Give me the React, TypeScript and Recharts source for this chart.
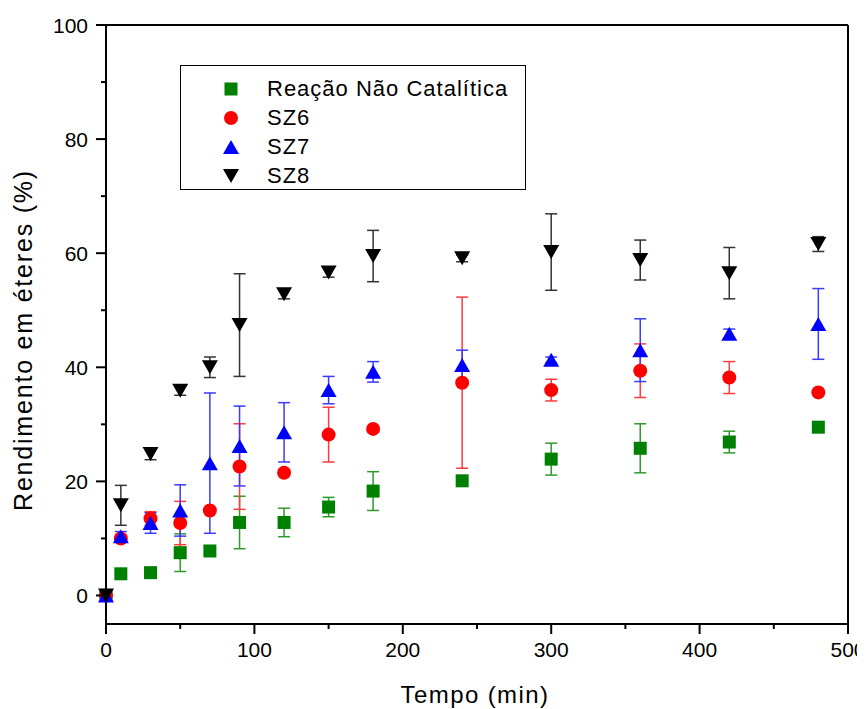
import { ScatterChart, Scatter, XAxis, YAxis, ErrorBar, ReferenceLine, Legend, Label } from 'recharts'

const FONT = '"Liberation Sans", Arial, sans-serif'

// tempo (min)
const tempo = [0, 10, 30, 50, 70, 90, 120, 150, 180, 240, 300, 360, 420, 480]

// rendimento (%) e desvio de cada série
const naoCatalitica = [0, 3.8, 4.0, 7.5, 7.8, 12.8, 12.8, 15.5, 18.3, 20.1, 23.9, 25.8, 26.9, 29.5]
const naoCataliticaErr = [0, 0, 0, 3.3, 0.6, 4.6, 2.5, 1.7, 3.4, 0, 2.8, 4.3, 1.9, 0.5]

const sz6 = [0, 10.0, 13.5, 12.7, 14.9, 22.6, 21.5, 28.2, 29.2, 37.3, 36.0, 39.4, 38.2, 35.6]
const sz6Err = [0, 0.6, 1.2, 3.8, 0, 7.5, 0.5, 4.8, 0, 15.0, 1.9, 4.7, 2.8, 0]

const sz7 = [0, 10.4, 12.7, 14.9, 23.2, 26.2, 28.6, 36.0, 39.2, 40.4, 41.3, 43.0, 45.9, 47.6]
const sz7Err = [0, 0.8, 1.8, 4.5, 12.3, 7.0, 5.2, 2.4, 1.8, 2.6, 0.5, 5.5, 0.8, 6.2]

const sz8 = [0, 15.8, 24.8, 35.9, 40.0, 47.4, 52.8, 56.6, 59.5, 59.1, 60.2, 58.8, 56.5, 61.6]
const sz8Err = [0, 3.5, 1.0, 0.8, 1.8, 9.0, 0.8, 0.8, 4.5, 0.6, 6.7, 3.5, 4.5, 1.3]

const xTicks = [0, 50, 100, 150, 200, 250, 300, 350, 400, 450, 500]
const yTicks = [0, 10, 20, 30, 40, 50, 60, 70, 80, 90, 100]

const toPoints = (vals: number[], errs: number[]) =>
  tempo.map((t, i) => ({ t, v: vals[i], e: errs[i] }))

// marker shapes
const drawSquare = (fill: string) => (p: any) => (
  <rect x={p.cx - 6.5} y={p.cy - 6.5} width={13} height={13} fill={fill} />
)
const drawCircle = (fill: string) => (p: any) => <circle cx={p.cx} cy={p.cy} r={7} fill={fill} />
const drawUp = (fill: string) => (p: any) => (
  <polygon points={`${p.cx - 8},${p.cy + 7} ${p.cx + 8},${p.cy + 7} ${p.cx},${p.cy - 7}`} fill={fill} />
)
const drawDown = (fill: string) => (p: any) => (
  <polygon points={`${p.cx - 8},${p.cy - 7} ${p.cx + 8},${p.cy - 7} ${p.cx},${p.cy + 7}`} fill={fill} />
)

const series = [
  { name: 'Reação Não Catalítica', data: toPoints(naoCatalitica, naoCataliticaErr), color: '#008000', bar: '#2e9a2e', shape: drawSquare },
  { name: 'SZ6', data: toPoints(sz6, sz6Err), color: '#ff0000', bar: '#ff3b3b', shape: drawCircle },
  { name: 'SZ7', data: toPoints(sz7, sz7Err), color: '#0000ff', bar: '#3b3bff', shape: drawUp },
  { name: 'SZ8', data: toPoints(sz8, sz8Err), color: '#000000', bar: '#333333', shape: drawDown },
]

const XTick = (props: any) => {
  const { x, y, payload } = props
  const major = payload.value % 100 === 0
  return (
    <g>
      <line x1={x} x2={x} y1={y} y2={y + (major ? 10 : 5)} stroke="#000" strokeWidth={2} />
      {major && (
        <text x={x} y={y + 33} textAnchor="middle" fontSize={21} fontFamily={FONT} fill="#000">
          {payload.value}
        </text>
      )}
    </g>
  )
}

const YTick = (props: any) => {
  const { x, y, payload } = props
  const major = payload.value % 20 === 0
  return (
    <g>
      <line x1={x} x2={x - (major ? 10 : 5)} y1={y} y2={y} stroke="#000" strokeWidth={2} />
      {major && (
        <text x={x - 18} y={y + 7.5} textAnchor="end" fontSize={21} fontFamily={FONT} fill="#000">
          {payload.value}
        </text>
      )}
    </g>
  )
}

const LegendBox = () => (
  <div
    style={{
      border: '1px solid #000',
      background: '#fff',
      width: 346,
      height: 125,
      paddingTop: 8,
      boxSizing: 'border-box',
      fontFamily: FONT,
      fontSize: 22,
      letterSpacing: 1,
      color: '#000',
    }}
  >
    {series.map((s) => (
      <div key={s.name} style={{ height: 29, display: 'flex', alignItems: 'center', position: 'relative' }}>
        <svg width={20} height={20} style={{ position: 'absolute', left: 40 }}>
          {s.shape(s.color)({ cx: 10, cy: 10 })}
        </svg>
        <span style={{ position: 'absolute', left: 86, lineHeight: '29px' }}>{s.name}</span>
      </div>
    ))}
  </div>
)

export default function App() {
  return (
    <ScatterChart width={857} height={701} margin={{ top: 17, right: 17, bottom: 0, left: 0 }}>
      <XAxis
        dataKey="t"
        type="number"
        domain={[0, 500]}
        ticks={xTicks}
        interval={0}
        height={85}
        tickLine={false}
        tickSize={0}
        tickMargin={0}
        tick={<XTick />}
        axisLine={{ stroke: '#000', strokeWidth: 2 }}
      >
        <Label
          content={() => (
            <text x={467} y={695} textAnchor="middle" fontSize={24} fontFamily={FONT} letterSpacing={1.4} fill="#000">
              Tempo (min)
            </text>
          )}
        />
      </XAxis>
      <YAxis
        dataKey="v"
        type="number"
        domain={[-5, 100]}
        ticks={yTicks}
        interval={0}
        width={98}
        tickLine={false}
        tickSize={0}
        tickMargin={0}
        tick={<YTick />}
        axisLine={{ stroke: '#000', strokeWidth: 2 }}
      >
        <Label
          content={() => (
            <text
              x={24}
              y={332}
              transform="rotate(-90 24 332)"
              textAnchor="middle"
              fontSize={25}
              fontFamily={FONT}
              letterSpacing={1.8}
              fill="#000"
            >
              Rendimento em éteres (%)
            </text>
          )}
        />
      </YAxis>
      <ReferenceLine y={100} stroke="#000" strokeWidth={2} />
      <ReferenceLine x={500} stroke="#000" strokeWidth={2} />
      <Legend
        layout="vertical"
        align="center"
        verticalAlign="middle"
        content={<LegendBox />}
        wrapperStyle={{ left: 172, top: 57, width: 346, height: 125 }}
      />
      {series.map((s) => (
        <Scatter key={s.name} name={s.name} data={s.data} fill={s.color} shape={s.shape(s.color)} isAnimationActive={false}>
          <ErrorBar dataKey="e" direction="y" width={6} stroke={s.bar} strokeWidth={1.5} isAnimationActive={false} />
        </Scatter>
      ))}
    </ScatterChart>
  )
}
